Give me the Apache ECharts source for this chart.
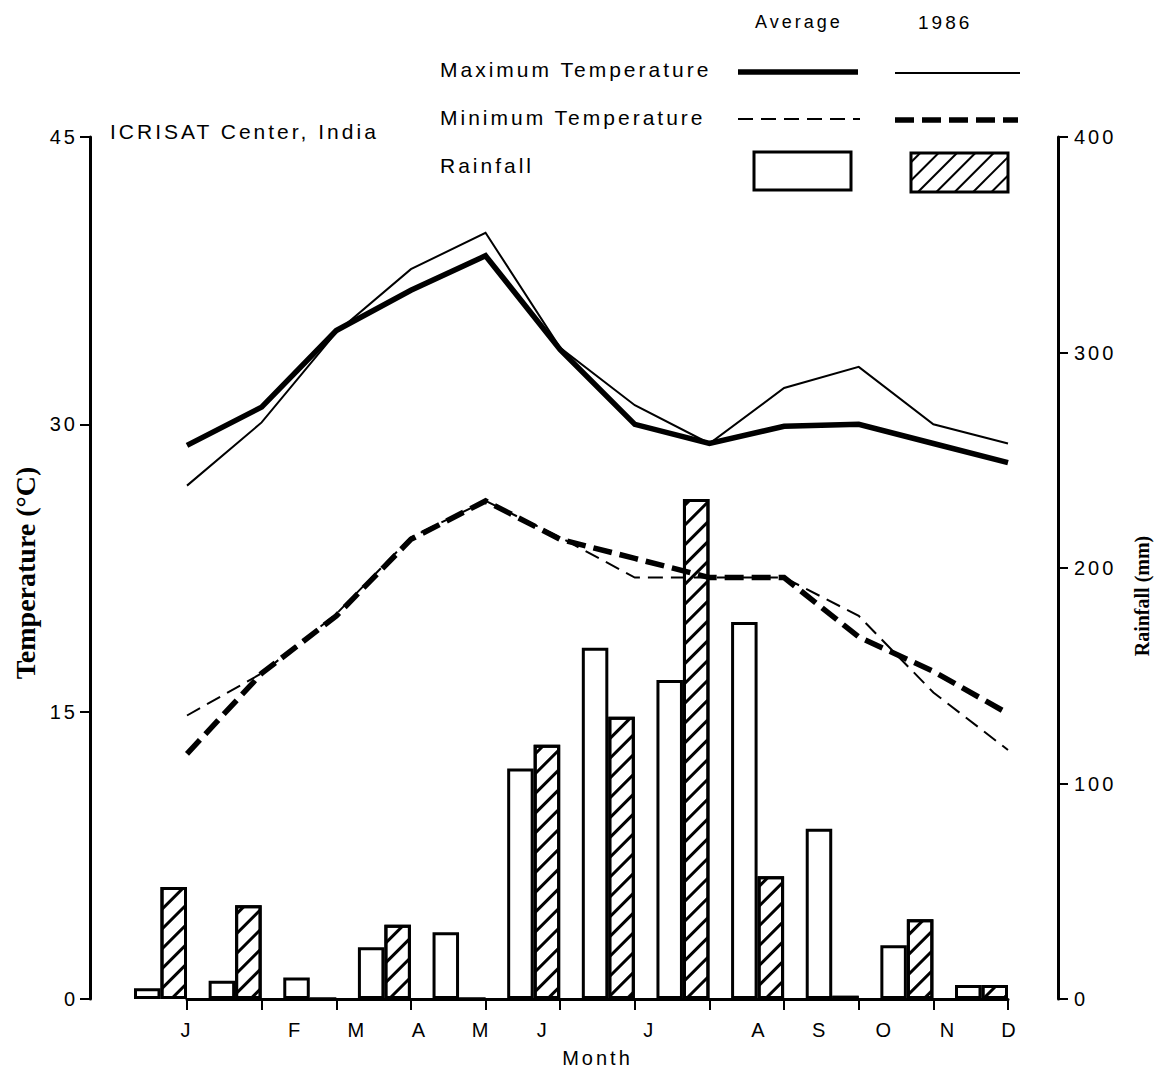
<!DOCTYPE html>
<html>
<head>
<meta charset="utf-8">
<title>ICRISAT Center, India — temperature and rainfall</title>
<script src="https://cdn.jsdelivr.net/npm/echarts@6/dist/echarts.min.js"></script>
<style>
  html, body { margin: 0; padding: 0; background: #fff; }
  #chart { width: 1155px; height: 1070px; }
  /* wide tracking for the sans-serif lettering, normal for the serif axis titles */
  #chart text { letter-spacing: 3px; }
  #chart text[style*="Serif"] { letter-spacing: 0; }
</style>
</head>
<body>
<div id="chart"></div>
<script>
// ---- data ----------------------------------------------------------------
const months = ['Jan', 'Feb', 'Mar', 'Apr', 'May', 'Jun', 'Jul', 'Aug', 'Sep', 'Oct', 'Nov', 'Dec'];
const monthTickLabels = ['J', 'F', 'M', 'A', 'M', 'J', 'J', 'A', 'S', 'O', 'N', 'D'];

// temperatures, °C
const maxTempAverage = [28.9, 30.9, 34.9, 37.0, 38.8, 33.9, 30.0, 29.0, 29.9, 30.0, 29.0, 28.0];
const maxTemp1986    = [26.8, 30.1, 34.8, 38.1, 40.0, 34.0, 31.0, 29.0, 31.9, 33.0, 30.0, 29.0];
const minTempAverage = [14.8, 17.0, 20.1, 24.1, 26.0, 24.1, 22.0, 22.0, 22.0, 20.0, 16.0, 13.0];
const minTemp1986    = [12.8, 17.0, 20.0, 24.0, 26.0, 24.0, 23.0, 22.0, 22.0, 18.9, 17.1, 14.9];

// rainfall, mm
const rainAverage = [5, 8.5, 10, 24, 31, 107, 163, 148, 175, 79, 25, 6.5];
const rain1986    = [52, 43.5, 0, 34.5, 0, 118, 131, 232, 57, 1.5, 37, 6.5];

// ---- layout ----------------------------------------------------------------
const W = 1155, H = 1070;
const PLOT_TOP = 137, BASE_Y = 999;
const FIRST_X = 187, LAST_X = 1008;            // January and December ticks
const STEP = (LAST_X - FIRST_X) / 11;
const BAR_W = 26.5;
const LEFT_AXIS_X = 90, RIGHT_AXIS_X = 1058;
// the printed month letters sit a little off their ticks
const monthLabelShift = [0, 34, 21, 9, -4, -17, 15, 50, 36, 26, 15, 2];

const SANS = 'Liberation Sans';
const SERIF = 'Liberation Serif';
const INK = '#000';

// line looks shared by the series and the key
const styleMaxAvg = { width: 5.5, color: INK, type: 'solid' };
const styleMax86  = { width: 2, color: INK, type: 'solid' };
const styleMinAvg = { width: 2, color: INK, type: [15, 8] };
const styleMin86  = { width: 5.5, color: INK, type: [19, 8] };

const hatchDecal = {
  symbol: 'rect', symbolSize: 1,
  dashArrayX: [1, 0], dashArrayY: [2.2, 10.8],
  rotation: -Math.PI / 4,
  color: INK, backgroundColor: '#fff'
};

// rainfall bars live in their own grid so each month's pair ends on its tick
const barGridLeft = FIRST_X - BAR_W - STEP / 2;
const barGridWidth = STEP * 12;

const monthRich = {};
monthLabelShift.forEach((s, i) => {
  monthRich['m' + i] = {
    fontFamily: SANS, fontSize: 20, color: INK,
    padding: s >= 0 ? [0, 0, 0, 2 * s] : [0, -2 * s, 0, 0]
  };
});

// diagonal hatching for the 1986 rainfall key box
function hatchLines(x0, y0, w, h, gap) {
  const out = [];
  const d = gap * Math.SQRT2;
  for (let c = x0 + y0 + d / 2; c < x0 + w + y0 + h; c += d) {
    const xa = Math.max(x0, c - (y0 + h));
    const xb = Math.min(x0 + w, c - y0);
    if (xb - xa < 0.5) continue;
    out.push({
      type: 'line', silent: true,
      shape: { x1: xa, y1: c - xa, x2: xb, y2: c - xb },
      style: { stroke: INK, lineWidth: 2 }
    });
  }
  return out;
}

function keyText(x, y, text, size) {
  return {
    type: 'text', x: x, y: y, silent: true,
    style: { text: text, fill: INK, font: size + 'px ' + SANS, align: 'left', verticalAlign: 'middle' }
  };
}
function keyLine(x1, x2, y, ls) {
  return {
    type: 'line', silent: true,
    shape: { x1: x1, y1: y, x2: x2, y2: y },
    style: { stroke: ls.color, lineWidth: ls.width, lineDash: Array.isArray(ls.type) ? ls.type : null }
  };
}

const graphic = [
  keyText(110, 131, 'ICRISAT Center, India', 21),
  keyText(755, 22, 'Average', 18),
  keyText(918, 22, '1986', 19),
  keyText(440, 69, 'Maximum Temperature', 21),
  keyText(440, 117, 'Minimum Temperature', 21),
  keyText(440, 165, 'Rainfall', 21),
  keyLine(738, 858, 72, styleMaxAvg),
  keyLine(895, 1020, 73, styleMax86),
  keyLine(738, 860, 119, styleMinAvg),
  keyLine(895, 1018, 120, styleMin86),
  {
    type: 'rect', silent: true,
    shape: { x: 754, y: 152, width: 97, height: 38 },
    style: { fill: '#fff', stroke: INK, lineWidth: 3 }
  },
  ...hatchLines(911, 153, 97, 39, 13),
  {
    type: 'rect', silent: true,
    shape: { x: 911, y: 153, width: 97, height: 39 },
    style: { fill: null, stroke: INK, lineWidth: 3 }
  }
];

const axisLineStyle = { show: true, lineStyle: { color: INK, width: 3 } };
const axisTickStyle = { show: true, inside: false, length: 10, lineStyle: { color: INK, width: 2 } };
const tickLabelStyle = { color: INK, fontFamily: SANS, fontSize: 20 };

function tempLine(name, data, ls) {
  return {
    type: 'line', name: name, xAxisIndex: 0, yAxisIndex: 0, data: data,
    symbol: 'none', clip: false, z: 5,
    lineStyle: { color: ls.color, width: ls.width, type: ls.type, join: 'miter', cap: 'butt' }
  };
}

const option = {
  animation: false,
  backgroundColor: '#fff',
  grid: [
    { left: FIRST_X, right: W - LAST_X, top: PLOT_TOP, bottom: H - BASE_Y, outerBoundsMode: 'none', containLabel: false },
    { left: barGridLeft, width: barGridWidth, top: PLOT_TOP, bottom: H - BASE_Y, outerBoundsMode: 'none', containLabel: false }
  ],
  xAxis: [
    {
      type: 'category', gridIndex: 0, data: months, boundaryGap: false,
      axisLine: axisLineStyle,
      axisTick: { show: true, length: 11, lineStyle: { color: INK, width: 2 } },
      axisLabel: {
        interval: 0, margin: 21, color: INK, fontFamily: SANS, fontSize: 20,
        formatter: (v, i) => '{m' + i + '|' + monthTickLabels[i] + '}',
        rich: monthRich
      },
      splitLine: { show: false },
      name: 'Month', nameLocation: 'middle', nameGap: 49,
      nameTextStyle: { color: INK, fontFamily: SANS, fontSize: 20, lineHeight: 20 }
    },
    { type: 'category', gridIndex: 1, data: months, boundaryGap: true, show: false }
  ],
  yAxis: [
    {
      type: 'value', gridIndex: 0, position: 'left', offset: FIRST_X - LEFT_AXIS_X,
      min: 0, max: 45, interval: 15,
      axisLine: axisLineStyle, axisTick: axisTickStyle,
      axisLabel: Object.assign({ margin: 12 }, tickLabelStyle),
      splitLine: { show: false },
      name: 'Temperature (°C)', nameLocation: 'middle', nameGap: 51, nameRotate: 90,
      nameTextStyle: { color: INK, fontFamily: SERIF, fontWeight: 'bold', fontSize: 28, padding: [0, 10, 0, 0] }
    },
    {
      type: 'value', gridIndex: 1, position: 'right',
      offset: RIGHT_AXIS_X - (barGridLeft + barGridWidth),
      min: 0, max: 400, interval: 100,
      axisLine: axisLineStyle, axisTick: axisTickStyle,
      axisLabel: Object.assign({ margin: 16 }, tickLabelStyle),
      splitLine: { show: false },
      name: 'Rainfall (mm)', nameLocation: 'middle', nameGap: 74, nameRotate: 90,
      nameTextStyle: { color: INK, fontFamily: SERIF, fontWeight: 'bold', fontSize: 20, padding: [0, 56, 0, 0] }
    }
  ],
  series: [
    {
      type: 'bar', name: 'Rainfall, average', xAxisIndex: 1, yAxisIndex: 1,
      data: rainAverage, barWidth: BAR_W, barGap: '0%', z: 2,
      itemStyle: { color: '#fff', borderColor: INK, borderWidth: 3 }
    },
    {
      type: 'bar', name: 'Rainfall, 1986', xAxisIndex: 1, yAxisIndex: 1,
      data: rain1986, barWidth: BAR_W, barGap: '0%', z: 2,
      itemStyle: { color: '#fff', borderColor: INK, borderWidth: 3, decal: hatchDecal }
    },
    tempLine('Maximum temperature, average', maxTempAverage, styleMaxAvg),
    tempLine('Maximum temperature, 1986', maxTemp1986, styleMax86),
    tempLine('Minimum temperature, average', minTempAverage, styleMinAvg),
    tempLine('Minimum temperature, 1986', minTemp1986, styleMin86)
  ],
  graphic: graphic
};

const chart = echarts.init(document.getElementById('chart'), null, { renderer: 'svg', width: W, height: H });
chart.setOption(option);
</script>
</body>
</html>
